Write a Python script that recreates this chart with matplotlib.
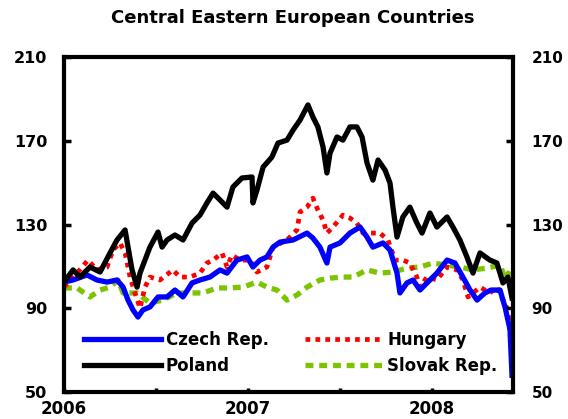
import matplotlib
matplotlib.use('Agg')
import matplotlib.pyplot as plt

# Index levels (start = 100), time in decimal years
pol_t = [2006.00, 2006.049, 2006.087, 2006.141, 2006.196, 2006.25, 2006.288, 2006.332, 2006.348,
         2006.37, 2006.397, 2006.413, 2006.44, 2006.467, 2006.511, 2006.533, 2006.56, 2006.603,
         2006.647, 2006.696, 2006.739, 2006.777, 2006.81, 2006.848, 2006.886, 2006.918, 2006.967,
         2007.022, 2007.027, 2007.049, 2007.082, 2007.13, 2007.163, 2007.212, 2007.245, 2007.283,
         2007.326, 2007.353, 2007.38, 2007.408, 2007.429, 2007.446, 2007.484, 2007.516, 2007.554,
         2007.592, 2007.62, 2007.647, 2007.679, 2007.707, 2007.745, 2007.772, 2007.788, 2007.81,
         2007.842, 2007.88, 2007.918, 2007.946, 2007.989, 2008.027, 2008.082, 2008.114, 2008.152,
         2008.19, 2008.223, 2008.261, 2008.315, 2008.353, 2008.386, 2008.413, 2008.435]
pol_v = [102.5, 108.3, 104.9, 109.7, 107.3, 116.4, 122.6, 127.4, 119.2,
         108.3, 100.1, 106.8, 113.0, 119.2, 126.4, 119.2, 122.6, 125.0,
         122.6, 130.7, 134.5, 140.3, 145.0, 141.7, 138.3, 147.9, 152.2,
         152.7, 140.3, 146.5, 157.4, 162.2, 168.9, 170.3, 175.1, 179.9,
         187.1, 181.3, 176.6, 167.0, 154.6, 164.1, 171.8, 170.3, 176.6,
         176.6, 171.8, 159.4, 151.2, 160.8, 156.0, 149.8, 138.3, 124.0,
         133.6, 138.3, 130.7, 125.9, 135.5, 128.8, 133.6, 128.8, 122.6,
         114.5, 106.8, 116.4, 113.0, 111.6, 102.1, 104.9, 94.9]

hun_t = [2006.00, 2006.071, 2006.13, 2006.179, 2006.234, 2006.266, 2006.304, 2006.332, 2006.359,
         2006.386, 2006.413, 2006.44, 2006.467, 2006.522, 2006.592, 2006.63, 2006.685, 2006.739,
         2006.777, 2006.81, 2006.859, 2006.886, 2006.913, 2006.957, 2007.011, 2007.049, 2007.103,
         2007.136, 2007.212, 2007.266, 2007.283, 2007.321, 2007.353, 2007.38, 2007.408, 2007.429,
         2007.462, 2007.516, 2007.554, 2007.592, 2007.625, 2007.679, 2007.717, 2007.761, 2007.799,
         2007.842, 2007.88, 2007.918, 2007.935, 2007.973, 2008.027, 2008.082, 2008.136, 2008.168,
         2008.196, 2008.223, 2008.261, 2008.315, 2008.353, 2008.386, 2008.413, 2008.43]
hun_v = [100.1, 106.8, 113.0, 108.3, 109.7, 117.8, 121.2, 116.4, 104.9,
         97.3, 90.1, 100.1, 104.9, 103.5, 108.3, 104.9, 104.9, 106.8,
         111.6, 113.0, 116.4, 109.7, 115.4, 113.0, 113.0, 107.3, 109.7,
         119.2, 122.6, 127.4, 136.0, 138.3, 142.6, 136.9, 132.1, 125.9,
         128.8, 134.5, 133.1, 130.7, 125.9, 125.9, 125.9, 122.6, 113.0,
         113.0, 111.6, 104.9, 100.1, 104.9, 103.5, 109.7, 108.3, 103.5,
         95.4, 97.3, 100.1, 97.3, 100.1, 93.9, 89.2, 72.0]

cze_t = [2006.00, 2006.049, 2006.125, 2006.179, 2006.234, 2006.288, 2006.321, 2006.348, 2006.375,
         2006.402, 2006.429, 2006.467, 2006.511, 2006.56, 2006.603, 2006.647, 2006.696, 2006.739,
         2006.793, 2006.848, 2006.886, 2006.94, 2006.995, 2007.027, 2007.065, 2007.103, 2007.136,
         2007.174, 2007.245, 2007.321, 2007.353, 2007.391, 2007.429, 2007.446, 2007.5, 2007.554,
         2007.609, 2007.647, 2007.679, 2007.734, 2007.772, 2007.81, 2007.826, 2007.864, 2007.897,
         2007.935, 2007.973, 2008.027, 2008.082, 2008.125, 2008.168, 2008.207, 2008.245, 2008.288,
         2008.321, 2008.37, 2008.397, 2008.424, 2008.435]
cze_v = [102.5, 103.5, 105.9, 103.5, 102.5, 103.5, 100.1, 93.9, 89.2,
         85.8, 89.2, 90.6, 95.4, 95.4, 98.7, 95.4, 102.1, 103.5,
         104.9, 108.3, 106.8, 113.0, 114.5, 109.7, 113.0, 114.5, 119.2,
         121.6, 122.6, 125.9, 123.5, 119.2, 111.6, 119.2, 121.2, 125.9,
         128.8, 124.0, 119.2, 121.2, 117.8, 106.8, 97.3, 102.1, 103.5,
         98.7, 102.1, 106.8, 113.0, 111.6, 104.9, 98.7, 93.9, 97.3,
         98.7, 98.7, 90.6, 80.0, 58.0]

svk_t = [2006.00, 2006.071, 2006.141, 2006.196, 2006.25, 2006.293, 2006.321, 2006.397, 2006.467,
         2006.538, 2006.614, 2006.685, 2006.755, 2006.832, 2006.902, 2006.973, 2007.049, 2007.103,
         2007.158, 2007.212, 2007.266, 2007.321, 2007.391, 2007.446, 2007.516, 2007.571, 2007.647,
         2007.717, 2007.788, 2007.864, 2007.935, 2008.005, 2008.082, 2008.152, 2008.223, 2008.299,
         2008.37, 2008.402, 2008.43]
svk_v = [99.7, 99.7, 95.4, 98.7, 100.1, 103.5, 97.3, 97.3, 92.5,
         93.9, 97.3, 97.3, 97.3, 99.7, 99.7, 100.1, 102.5, 100.1,
         98.7, 93.9, 96.3, 100.1, 103.5, 104.4, 104.9, 104.9, 108.3,
         106.8, 107.3, 109.2, 109.7, 111.6, 110.6, 109.7, 108.3, 109.2,
         110.6, 103.5, 109.7]

y_ticks = [50, 90, 130, 170, 210]
x_ticks = [2006, 2006.5, 2007, 2007.5, 2008]
x_labels = ['2006', '', '2007', '', '2008']

fs = 12
plt.rcParams['font.family'] = 'DejaVu Sans'
plt.rcParams['font.weight'] = 'bold'

fig = plt.figure(figsize=(5.68, 4.19), dpi=100)
ax = fig.add_axes([0.1127, 0.0644, 0.7903, 0.7996])

ln_s, = ax.plot(svk_t, svk_v, color='#7DC400', lw=3.8, linestyle=(0, (1.5, 1.1)), label='Slovak Rep.')
ln_h, = ax.plot(hun_t, hun_v, color='#FF0000', lw=3.4, linestyle=(0, (1, 1.1)), label='Hungary')
ln_c, = ax.plot(cze_t, cze_v, color='#0000FF', lw=3.8, label='Czech Rep.')
ln_p, = ax.plot(pol_t, pol_v, color='black', lw=3.8, label='Poland')

ax.set_xlim(2006.0, 2008.44)
ax.set_ylim(50, 210)
ax.set_yticks(y_ticks)
ax.set_yticklabels([str(v) for v in y_ticks])
ax.set_xticks(x_ticks)
ax.set_xticklabels(x_labels)

for s in ax.spines.values():
    s.set_linewidth(3)
ax.tick_params(axis='y', direction='in', length=5, width=2.5, left=True, right=False,
               labelsize=11.5, pad=12)
ax.tick_params(axis='x', direction='in', length=3, width=2.5, labelsize=fs, pad=6)

# right-hand scale repeats the left one, set a bit further from the frame
ax2 = ax.twinx()
ax2.set_ylim(50, 210)
ax2.set_yticks(y_ticks)
ax2.set_yticklabels([str(v) for v in y_ticks])
for s in ax2.spines.values():
    s.set_visible(False)
ax2.tick_params(axis='y', direction='in', length=5, width=2.5, labelsize=11, pad=13.5)

leg = ax.legend(handles=[ln_c, ln_p, ln_h, ln_s], ncol=2, frameon=False,
                loc='lower left', bbox_to_anchor=(0.015, 0.01), fontsize=fs,
                handlelength=4.6, handletextpad=0.3, columnspacing=2.2,
                labelspacing=0.5, borderpad=0.3)

fig.text(0.515, 0.958, 'Central Eastern European Countries', ha='center', va='center',
         fontsize=13, fontweight='bold')

plt.savefig('out.png', dpi=100)
